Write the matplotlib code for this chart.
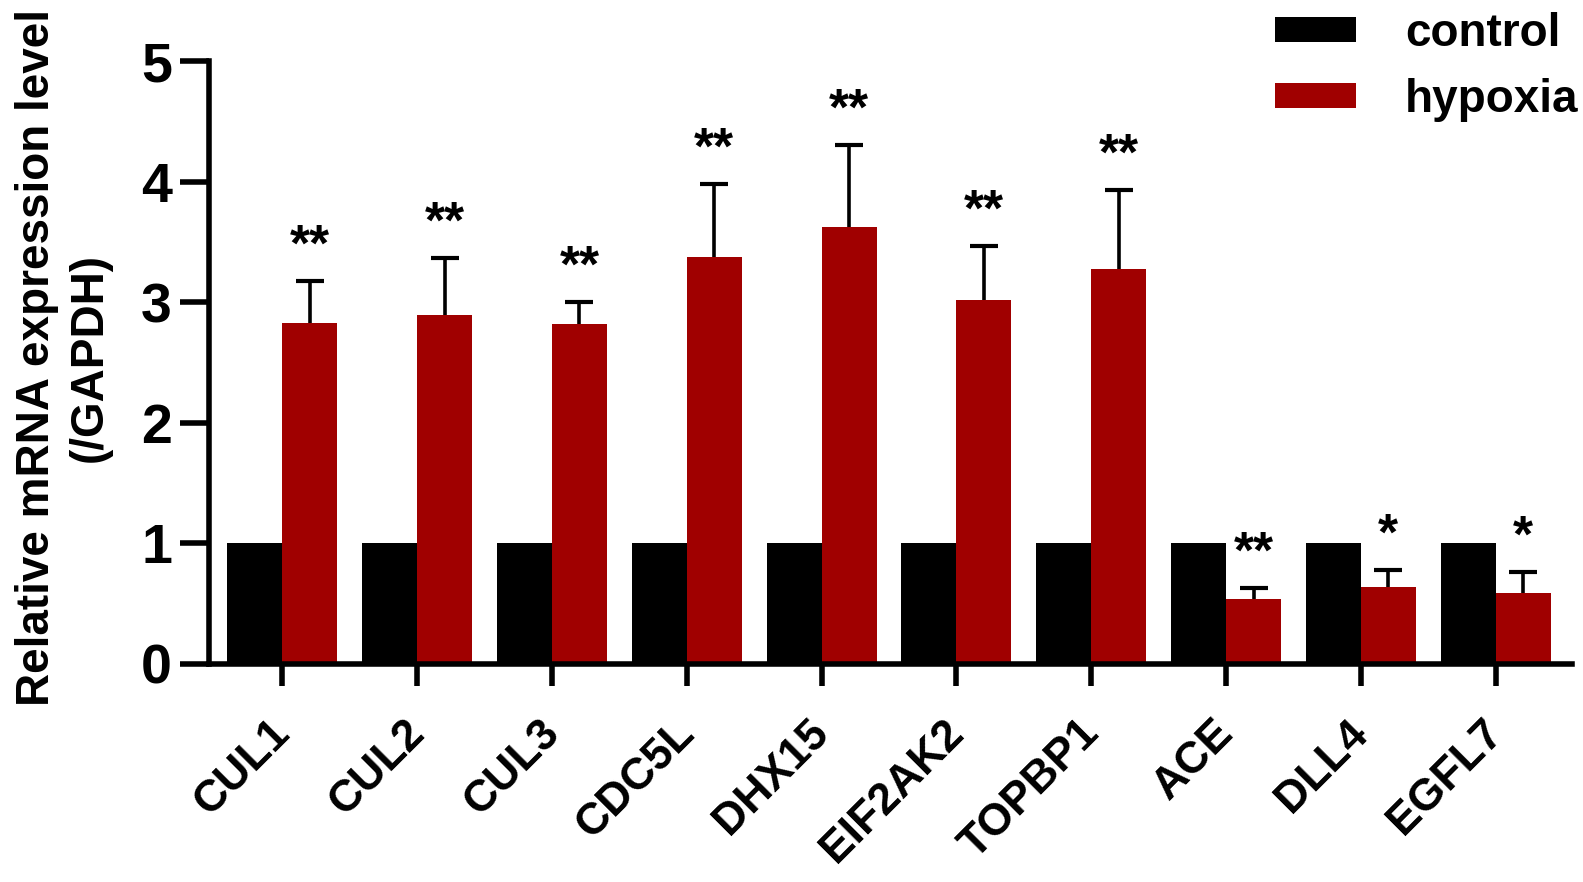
import numpy as np
import matplotlib
matplotlib.use("Agg")
from matplotlib import pyplot as plt
from matplotlib import transforms

genes = ["CUL1", "CUL2", "CUL3", "CDC5L", "DHX15", "EIF2AK2", "TOPBP1", "ACE", "DLL4", "EGFL7"]
control = [1, 1, 1, 1, 1, 1, 1, 1, 1, 1]
hypoxia = [2.83, 2.90, 2.82, 3.38, 3.63, 3.02, 3.28, 0.54, 0.64, 0.59]
hypoxia_err = [0.35, 0.47, 0.18, 0.60, 0.68, 0.45, 0.65, 0.09, 0.14, 0.17]
signif = ["**", "**", "**", "**", "**", "**", "**", "**", "*", "*"]

RED = "#a00000"
plt.rcParams["font.family"] = ["Liberation Sans", "DejaVu Sans"]

fig = plt.figure(figsize=(15.83, 8.82), dpi=100)
ax = fig.add_axes([0.1323, 0.2472, 0.8608, 0.6831])

x = np.arange(len(genes))
w = 0.408
b1 = ax.bar(x - w / 2, control, w, color="black", label="control")
b2 = ax.bar(x + w / 2, hypoxia, w, color=RED, label="hypoxia")
eb = ax.errorbar(x + w / 2, hypoxia, yerr=[np.zeros(len(genes)), hypoxia_err],
                 fmt="none", ecolor="black", elinewidth=2.6, capsize=10, capthick=3)
# only the upper cap is wanted
eb[1][0].set_visible(False)

for i in range(len(genes)):
    top = hypoxia[i] + hypoxia_err[i]
    ax.text(x[i] + w / 2, top + 0.17, signif[i], ha="center", va="baseline",
            fontsize=37, fontweight="bold")

ax.set_xlim(-0.541, 9.567)
ax.set_ylim(0, 5)
ax.set_yticks([0, 1, 2, 3, 4, 5])
ax.set_xticks(x)
ax.set_xticklabels([])
for lab in ax.get_yticklabels():
    lab.set_fontweight("bold")
ax.tick_params(axis="y", length=21, width=4, labelsize=40, pad=6)
ax.tick_params(axis="x", length=16, width=4)

# gene names, rotated, hung under the ticks
shift = transforms.ScaledTranslation(1 / 100, -63 / 100, fig.dpi_scale_trans)
for i, g in enumerate(genes):
    ax.text(x[i], 0, g, transform=ax.get_xaxis_transform() + shift,
            rotation=45, ha="right", va="center", rotation_mode="anchor",
            fontsize=32, fontweight="bold")

for s in ["top", "right"]:
    ax.spines[s].set_visible(False)
for s in ["left", "bottom"]:
    ax.spines[s].set_linewidth(4)

fig.text(0.040, 1 - 357 / 882, "Relative mRNA expression level\n(/GAPDH)",
         rotation=90, ha="center", va="center", multialignment="center",
         fontsize=33, fontweight="bold", linespacing=1.25)

ax.legend(handles=[b1, b2], loc="upper left", bbox_to_anchor=(1275 / 1583, 1 - 12 / 882),
          bbox_transform=fig.transFigure, frameon=False,
          prop={"weight": "bold", "size": 33}, handlelength=1.77, handleheight=0.48,
          handletextpad=1.07, labelspacing=0.48, borderpad=0, borderaxespad=0)

fig.savefig("out.png", dpi=100)
